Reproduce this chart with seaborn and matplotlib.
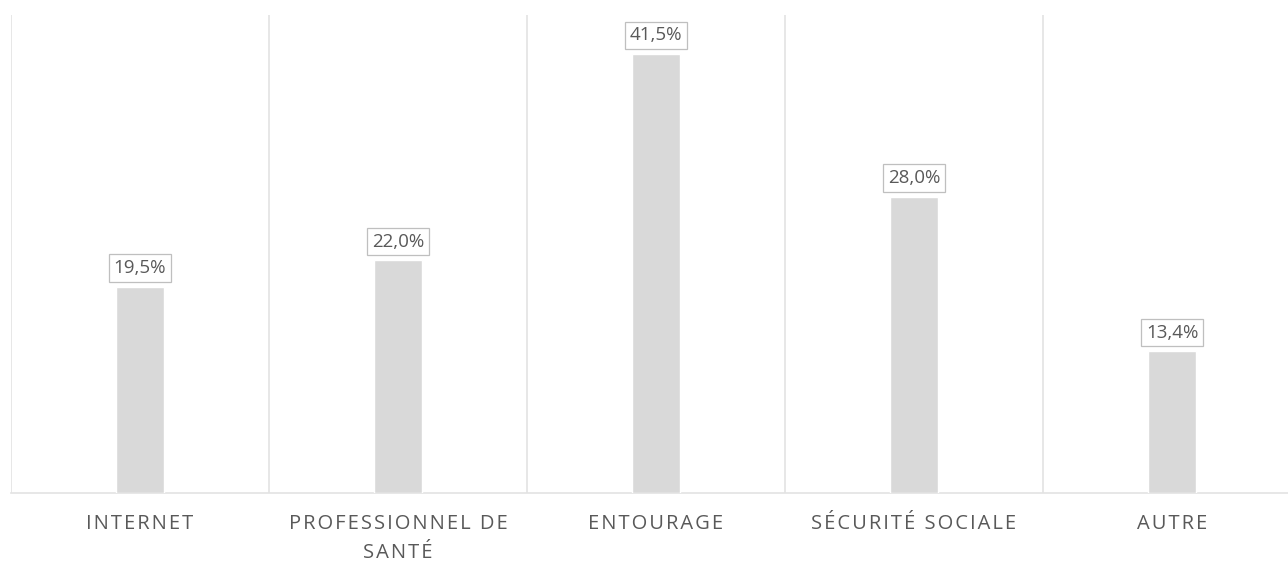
import matplotlib
matplotlib.use("Agg")
import matplotlib.pyplot as plt
import seaborn as sns
import pandas as pd

# Data
categories = ["INTERNET", "PROFESSIONNEL DE\nSANTÉ", "ENTOURAGE", "SÉCURITÉ SOCIALE", "AUTRE"]
values = [19.5, 22.0, 41.5, 28.0, 13.4]
value_labels = ["19,5%", "22,0%", "41,5%", "28,0%", "13,4%"]

BAR_COLOR = "#D9D9D9"
GRID_COLOR = "#E3E3E3"
TEXT_COLOR = "#595959"

sns.set_theme(style="white")
plt.rcParams["font.family"] = ["Open Sans", "DejaVu Sans"]


def spaced(label):
    # Excel draws the axis labels with extra character spacing
    return "\n".join("\u200a".join(line) for line in label.split("\n"))


df = pd.DataFrame({"cat": categories, "val": values})

fig = plt.figure(figsize=(12.88, 5.62), dpi=100)
ax = fig.add_axes([11 / 1288, 69 / 562, 1290 / 1288, 478 / 562])

sns.barplot(data=df, x="cat", y="val", color=BAR_COLOR, width=0.186,
            saturation=1, ax=ax, zorder=3)

ax.set_xlim(-0.5, len(categories) - 0.5)
ax.set_ylim(0, 45.2)

# vertical separators between categories (Excel-style gridlines)
for b in range(len(categories) + 1):
    ax.axvline(b - 0.5, color=GRID_COLOR, linewidth=1.2, zorder=1)

for s in ["top", "right", "left"]:
    ax.spines[s].set_visible(False)
ax.spines["bottom"].set_color(GRID_COLOR)
ax.spines["bottom"].set_linewidth(1.2)

ax.set_yticks([])
ax.set_xlabel("")
ax.set_ylabel("")
ax.tick_params(axis="x", length=0, pad=15)
ax.set_xticks(range(len(categories)))
ax.set_xticklabels([spaced(c) for c in categories], fontsize=14.5,
                   color=TEXT_COLOR, linespacing=1.6)

for i, (v, lab) in enumerate(zip(values, value_labels)):
    ax.annotate(lab, xy=(i, v), xytext=(0, 7), textcoords="offset points",
                ha="center", va="bottom", fontsize=13.5, color=TEXT_COLOR, zorder=4,
                bbox=dict(boxstyle="square,pad=0.25", facecolor="white",
                          edgecolor="#BFBFBF", linewidth=0.9))

fig.savefig("out.png", dpi=100)
plt.close()
